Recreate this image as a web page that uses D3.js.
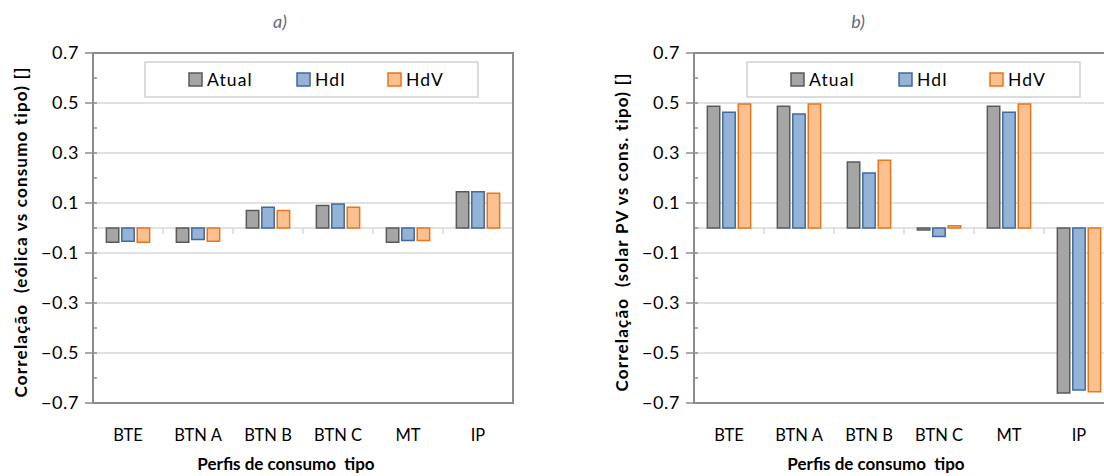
<!DOCTYPE html>
<html>
<head>
<meta charset="utf-8">
<script src="https://cdn.jsdelivr.net/npm/d3@7"></script>
<style>
  html, body { margin: 0; padding: 0; background: #fff; }
  svg { display: block; font-family: Lato, "Open Sans", sans-serif; }
  text { white-space: pre; }
</style>
</head>
<body>
<svg id="chart" width="1104" height="476"></svg>
<script>
// Consumption profile categories and scenario names
const categories = ["BTE", "BTN A", "BTN B", "BTN C", "MT", "IP"];
const seriesNames = ["Atual", "HdI", "HdV"];

// a) correlation of wind generation with typical consumption profiles
const windAtual = [-0.057, -0.057, 0.070, 0.090, -0.057, 0.145];
const windHdI   = [-0.053, -0.046, 0.083, 0.096, -0.050, 0.145];
const windHdV   = [-0.057, -0.053, 0.070, 0.083, -0.050, 0.139];

// b) correlation of solar PV generation with typical consumption profiles
const solarAtual = [0.487, 0.487, 0.264, -0.008, 0.487, -0.660];
const solarHdI   = [0.463, 0.456, 0.220, -0.034, 0.463, -0.648];
const solarHdV   = [0.496, 0.496, 0.271, 0.009, 0.496, -0.655];

// Axis ticks
const yTicks = [-0.7, -0.5, -0.3, -0.1, 0.1, 0.3, 0.5, 0.7];
const yMinorTicks = [-0.6, -0.4, -0.2, 0, 0.2, 0.4, 0.6];

const panelTitles = ["a)", "b)"];
const yTitles = ["Correlação  (eólica vs consumo tipo) []", "Correlação  (solar PV vs cons. tipo) []"];
const xTitle = "Perfis de consumo  tipo";

const fills   = { "Atual": "#a5a5a5", "HdI": "#95b3d7", "HdV": "#fac090" };
const strokes = { "Atual": "#595959", "HdI": "#3f6a9c", "HdV": "#e8761a" };

const svg = d3.select("#chart");

function drawPanel(cfg) {
  const g = svg.append("g");
  const x = d3.scaleBand().domain(categories).range([cfg.left, cfg.left + cfg.step * categories.length]);
  const y = d3.scaleLinear().domain([-0.7, 0.7]).range([403, 53]);
  const inner = cfg.step * 0.18;
  const xs = d3.scaleBand().domain(seriesNames).range([inner, cfg.step - inner]).paddingInner(0.1);
  const right = x.range()[1];

  // gridlines
  g.append("g").selectAll("line").data(yTicks.filter(d => d > -0.7 && d < 0.7)).join("line")
    .attr("x1", cfg.left).attr("x2", right)
    .attr("y1", d => y(d)).attr("y2", d => y(d))
    .attr("stroke", "#d9d9d9").attr("stroke-width", 1.5);

  // category axis at zero with separators
  g.append("line").attr("x1", cfg.left).attr("x2", right)
    .attr("y1", y(0)).attr("y2", y(0))
    .attr("stroke", "#d9d9d9").attr("stroke-width", 1.5);
  g.append("g").selectAll("line").data(categories.slice(1)).join("line")
    .attr("x1", d => x(d)).attr("x2", d => x(d))
    .attr("y1", y(0)).attr("y2", y(0) + 6)
    .attr("stroke", "#d9d9d9").attr("stroke-width", 1.5);

  // bars
  const rows = [];
  categories.forEach((c, i) => {
    seriesNames.forEach((s, j) => rows.push({ c, s, v: cfg.values[j][i] }));
  });
  g.append("g").selectAll("rect").data(rows).join("rect")
    .attr("x", d => x(d.c) + xs(d.s) + 0.75)
    .attr("width", xs.bandwidth() - 1.5)
    .attr("y", d => y(Math.max(0, d.v)))
    .attr("height", d => Math.abs(y(d.v) - y(0)))
    .attr("fill", d => fills[d.s])
    .attr("stroke", d => strokes[d.s])
    .attr("stroke-width", 1.5);

  // plot border
  g.append("rect").attr("x", cfg.left).attr("y", y(0.7))
    .attr("width", right - cfg.left).attr("height", y(-0.7) - y(0.7))
    .attr("fill", "none").attr("stroke", "#8c8c8c").attr("stroke-width", 2);

  // y tick marks
  g.append("g").selectAll("line").data(yTicks).join("line")
    .attr("x1", cfg.left - 8).attr("x2", cfg.left + 4)
    .attr("y1", d => y(d)).attr("y2", d => y(d))
    .attr("stroke", "#8c8c8c").attr("stroke-width", 1.5);
  g.append("g").selectAll("line").data(yMinorTicks).join("line")
    .attr("x1", cfg.left).attr("x2", cfg.left + 4)
    .attr("y1", d => y(d)).attr("y2", d => y(d))
    .attr("stroke", "#8c8c8c").attr("stroke-width", 1.5);

  // y tick labels
  const yAxis = g.append("g").attr("transform", `translate(${cfg.left},0)`)
    .call(d3.axisLeft(y).tickValues(yTicks).tickFormat(d3.format(".1f")).tickSize(0).tickPadding(14));
  yAxis.select(".domain").remove();
  yAxis.selectAll("text").attr("font-size", 18).attr("letter-spacing", 0.6)
    .attr("fill", "#000").attr("font-family", "Lato");

  // category labels along the bottom
  const xAxis = g.append("g").attr("transform", `translate(0,${y(-0.7)})`)
    .call(d3.axisBottom(x).tickSize(0).tickPadding(26));
  xAxis.select(".domain").remove();
  xAxis.selectAll("text").attr("font-size", 16.5).attr("fill", "#000").attr("font-family", "Lato");

  // titles
  g.append("text").attr("x", cfg.titleX).attr("y", 28).attr("text-anchor", "middle")
    .attr("font-size", 18).attr("font-style", "italic").attr("fill", "#5b6b80")
    .text(cfg.title);
  g.append("text").attr("x", cfg.xTitleX).attr("y", 470)
    .attr("text-anchor", "middle").attr("font-size", 17).attr("font-weight", "bold")
    .attr("fill", "#000")
    .text(xTitle);
  g.append("text").attr("transform", `translate(${cfg.left - 66},232) rotate(-90)`)
    .attr("text-anchor", "middle").attr("font-size", 17).attr("font-weight", "bold")
    .attr("letter-spacing", 1.2).attr("fill", "#000")
    .text(cfg.yTitle);

  // legend
  const lg = g.append("g").attr("transform", `translate(${cfg.legendX},62)`);
  lg.append("rect").attr("width", 333).attr("height", 35)
    .attr("fill", "#fff").attr("stroke", "#d0d0d0").attr("stroke-width", 1.5);
  const itemX = d3.scaleOrdinal().domain(seriesNames).range([44, 152, 243]);
  const items = lg.selectAll("g.item").data(seriesNames).join("g")
    .attr("transform", d => `translate(${itemX(d)},11)`);
  items.append("rect").attr("width", 13).attr("height", 13)
    .attr("fill", d => fills[d]).attr("stroke", d => strokes[d]).attr("stroke-width", 1.5);
  items.append("text").attr("x", 18).attr("y", 13).attr("font-size", 17.5)
    .attr("letter-spacing", 1.1).attr("fill", "#000").text(d => d);
}

drawPanel({ left: 93, step: 70, values: [windAtual, windHdI, windHdV], title: panelTitles[0], titleX: 280,
            xTitleX: 286, yTitle: yTitles[0], legendX: 145 });
drawPanel({ left: 694, step: 70, values: [solarAtual, solarHdI, solarHdV], title: panelTitles[1], titleX: 858,
            xTitleX: 876, yTitle: yTitles[1], legendX: 747 });
</script>
</body>
</html>
